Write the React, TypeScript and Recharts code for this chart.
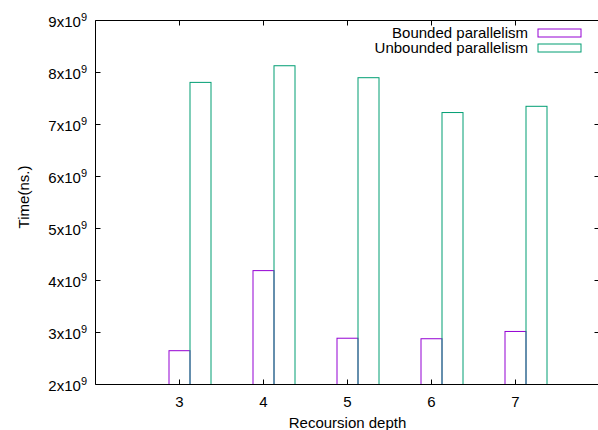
import { BarChart, Bar, XAxis, YAxis, Legend } from "recharts";

// recursion depth on x, run time (ns) on y
const depths = [3, 4, 5, 6, 7];
const boundedTimes = [2.65e9, 4.19e9, 2.89e9, 2.88e9, 3.02e9];
const unboundedTimes = [7.81e9, 8.13e9, 7.9e9, 7.23e9, 7.35e9];

const xTicks = [3, 4, 5, 6, 7];
const yTicks = [2e9, 3e9, 4e9, 5e9, 6e9, 7e9, 8e9, 9e9];

const SERIES = [
  { key: "bounded", name: "Bounded parallelism", color: "#9400d3" },
  { key: "unbounded", name: "Unbounded parallelism", color: "#009e73" },
];

const FONT = "'Liberation Sans', Arial, Helvetica, sans-serif";

const data = depths.map((depth, i) => ({
  depth,
  bounded: boundedTimes[i],
  unbounded: unboundedTimes[i],
}));

// gnuplot style: boxes are outlines only, group shifted so the first box sits on the tick
const OutlineBox = (props: any) => {
  const { x, y, width, height, stroke } = props;
  if (height == null || height <= 0) return null;
  return (
    <rect
      x={x + width / 2}
      y={y}
      width={width}
      height={height}
      fill="none"
      stroke={stroke}
      strokeWidth={1}
    />
  );
};

const LeftTick = ({ x, y, payload }: any) => (
  <g>
    <line x1={x} x2={x + 5} y1={y} y2={y} stroke="#000" />
    <text x={x - 8.5} y={y + 6} textAnchor="end" fontSize={15} fontFamily={FONT} fill="#000">
      {Math.round(payload.value / 1e9)}x10
      <tspan fontSize={11} dy={-6}>
        9
      </tspan>
    </text>
  </g>
);

const RightTick = ({ x, y }: any) => (
  <line x1={x - 5} x2={x} y1={y} y2={y} stroke="#000" />
);

const BottomTick = ({ x, y, payload }: any) => (
  <g>
    <line x1={x} x2={x} y1={y} y2={y - 5} stroke="#000" />
    <text x={x} y={y + 22} textAnchor="middle" fontSize={15} fontFamily={FONT} fill="#000">
      {payload.value}
    </text>
  </g>
);

const TopTick = ({ x, y }: any) => (
  <line x1={x} x2={x} y1={y} y2={y + 5} stroke="#000" />
);

const KeyBox = () => (
  <svg width={300} height={45} style={{ display: "block" }}>
    {SERIES.map((s, i) => (
      <g key={s.key}>
        <text
          x={228}
          y={18.3 + i * 15}
          textAnchor="end"
          fontSize={15}
          fontFamily={FONT}
          fill="#000"
        >
          {s.name}
        </text>
        <rect x={238} y={9 + i * 15} width={43} height={8} fill="none" stroke={s.color} />
      </g>
    ))}
  </svg>
);

export default function App() {
  return (
    <div
      style={{
        position: "absolute",
        left: 0,
        top: 0,
        width: 598,
        height: 430,
        overflow: "hidden",
        background: "#fff",
      }}
    >
      <BarChart
        width={604}
        height={430}
        data={data}
        margin={{ top: 19.5, right: 3.5, bottom: 44.5, left: 0 }}
        barGap={0}
      >
        <XAxis
          dataKey="depth"
          type="number"
          domain={[2, 8]}
          ticks={xTicks}
          allowDataOverflow
          height={1}
          tickSize={0}
          tickMargin={0}
          tickLine={false}
          tick={<BottomTick />}
          axisLine={{ stroke: "#000" }}
        />
        <XAxis
          xAxisId="top"
          dataKey="depth"
          type="number"
          orientation="top"
          domain={[2, 8]}
          ticks={xTicks}
          allowDataOverflow
          height={1}
          tickSize={0}
          tickMargin={0}
          tickLine={false}
          tick={<TopTick />}
          axisLine={{ stroke: "#000" }}
        />
        <YAxis
          type="number"
          domain={[2e9, 9e9]}
          ticks={yTicks}
          allowDataOverflow
          width={95.5}
          tickSize={0}
          tickMargin={0}
          tickLine={false}
          tick={<LeftTick />}
          axisLine={{ stroke: "#000" }}
        />
        <YAxis
          yAxisId="right"
          type="number"
          orientation="right"
          domain={[2e9, 9e9]}
          ticks={yTicks}
          allowDataOverflow
          width={1}
          tickSize={0}
          tickMargin={0}
          tickLine={false}
          tick={<RightTick />}
          axisLine={{ stroke: "#000" }}
        />
        <Legend
          layout="vertical"
          align="center"
          verticalAlign="middle"
          content={<KeyBox />}
          wrapperStyle={{ position: "absolute", left: 300, top: 20, width: 300, height: 45 }}
        />
        {SERIES.map((s) => (
          <Bar
            key={s.key}
            dataKey={s.key}
            name={s.name}
            barSize={21}
            fill="none"
            stroke={s.color}
            shape={<OutlineBox />}
            isAnimationActive={false}
          />
        ))}
        <text
          x={23}
          y={197}
          transform="rotate(-90 23 197)"
          textAnchor="middle"
          dominantBaseline="central"
          fontSize={15}
          fontFamily={FONT}
          fill="#000"
        >
          Time(ns.)
        </text>
        <text x={347.5} y={428} textAnchor="middle" fontSize={15} fontFamily={FONT} fill="#000">
          Recoursion depth
        </text>
      </BarChart>
    </div>
  );
}
